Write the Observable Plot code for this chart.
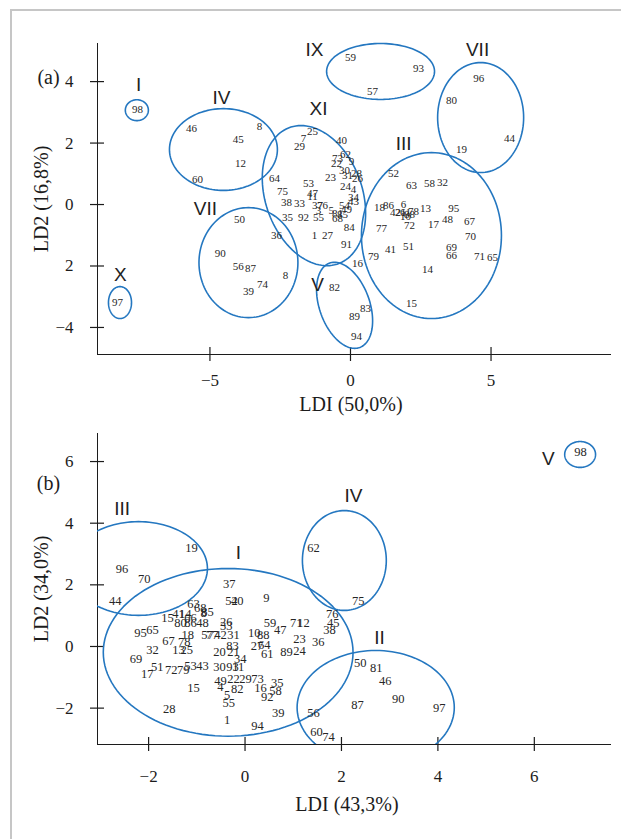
<!DOCTYPE html>
<html><head><meta charset="utf-8">
<script src="https://cdn.jsdelivr.net/npm/d3@7"></script>
<script src="https://cdn.jsdelivr.net/npm/@observablehq/plot@0.6"></script>
<style>
body{margin:0;background:#fff}
#wrap{position:relative;width:621px;height:839px;overflow:hidden;background:#fff}
#frame{position:absolute;left:10px;top:9px;width:700px;height:900px;border-left:2px solid #c6c6c6;border-top:2px solid #c6c6c6}
#pa{position:absolute;left:0;top:0}
#pb{position:absolute;left:0;top:420px}
</style></head><body>
<div id="wrap"><div id="frame"></div><div id="pa"></div><div id="pb"></div></div>
<script>
// ---------- Panel (a) ----------
const xDomA = [-9.0, 9.25];
const yDomA = [-4.88, 5.24];
const xTicksA = [-5, 0, 5];
const xTickLabelsA = ["−5", "0", "5"];
const yTicksA = [-4, -2, 0, 2, 4];
const yTickLabelsA = ["−4", "2", "0", "2", "4"];
const titlesA = {x: "LDI (50,0%)", y: "LD2 (16,8%)", tag: "(a)"};

// [label, LD1, LD2]
const pointsA = [
["98",-7.58,3.09],["46",-5.66,2.47],["8",-3.24,2.54],["45",-3.99,2.11],["12",-3.91,1.33],["60",-5.44,0.81],
["59",0.00,4.78],["93",2.42,4.42],["57",0.78,3.67],
["96",4.56,4.10],["80",3.59,3.38],["44",5.66,2.15],["19",3.95,1.79],
["25",-1.35,2.37],["7",-1.67,2.15],["29",-1.81,1.89],["40",-0.32,2.08],["62",-0.18,1.63],["73",-0.46,1.50],
["22",-0.50,1.33],["9",0.04,1.40],["23",-0.71,0.88],["30",-0.21,1.11],["31",-0.11,0.94],["28",0.21,1.01],
["26",0.25,0.85],["53",-1.49,0.68],["24",-0.18,0.59],["4",0.11,0.49],["64",-2.70,0.85],["75",-2.42,0.42],
["47",-1.35,0.36],["11",-1.35,0.26],["34",0.11,0.23],["43",0.11,0.10],["38",-2.28,0.07],["33",-1.81,0.03],
["37",-1.17,-0.03],["76",-1.00,-0.03],["3",-1.14,-0.20],["5",-0.68,-0.20],["54",-0.21,-0.03],["49",-0.14,-0.16],
["81",-0.46,-0.29],["85",-0.28,-0.33],["68",-0.46,-0.46],["35",-2.24,-0.42],["92",-1.67,-0.42],["55",-1.14,-0.42],
["1",-1.28,-1.01],["27",-0.82,-1.01],["84",-0.04,-0.75],["91",-0.14,-1.30],
["52",1.53,1.01],["63",2.17,0.62],["58",2.81,0.68],["32",3.27,0.72],["18",1.03,-0.10],["86",1.35,-0.03],
["6",1.89,0.00],["42",1.60,-0.26],["21",1.78,-0.26],["61",1.96,-0.26],["78",2.24,-0.23],["88",2.10,-0.33],
["10",1.96,-0.39],["13",2.67,-0.13],["95",3.67,-0.13],["48",3.45,-0.49],["67",4.23,-0.55],["77",1.10,-0.78],
["72",2.10,-0.68],["17",2.95,-0.65],["70",4.27,-1.04],["41",1.42,-1.46],["51",2.06,-1.37],["69",3.59,-1.40],
["66",3.59,-1.66],["79",0.82,-1.69],["71",4.59,-1.69],["65",5.05,-1.72],["14",2.74,-2.11],["15",2.17,-3.22],
["50",-3.95,-0.49],["36",-2.63,-1.01],["90",-4.63,-1.59],["56",-3.99,-2.02],["87",-3.56,-2.08],["8",-2.31,-2.31],
["74",-3.13,-2.60],["39",-3.63,-2.83],
["16",0.25,-1.92],["82",-0.57,-2.70],["83",0.53,-3.38],["89",0.14,-3.64],["94",0.21,-4.29],
["97",-8.29,-3.19]
];
// [name, cx, cy, horizontal half-chord, top-vector x, top-vector y]
const ellipsesA = [
["I",-7.60,3.07,0.41,0,0.34],["IV",-4.52,1.79,1.92,0,1.33],["IX",1.07,4.33,1.92,0,0.91],
["VIIa",4.63,2.83,1.53,0,1.79],["XI",-1.30,0.29,1.78,-0.46,2.28],["III",2.88,-1.01,2.49,0,2.70],
["VIIb",-3.63,-1.89,1.76,0,1.79],["V",-0.21,-3.28,0.93,-0.36,1.40],["X",-8.20,-3.19,0.41,0,0.52]
];
const clusterLabelsA = [
["I",-7.54,3.90],["IV",-4.59,3.48],["IX",-1.28,5.04],["VII",4.52,5.04],["XI",-1.14,3.12],
["III",1.89,1.98],["VII",-5.16,-0.13],["X",-8.19,-2.28],["V",-1.17,-2.63]
];

// ---------- Panel (b) ----------
const xDomB = [-3.06, 7.58];
const yDomB = [-3.18, 6.91];
const xTicksB = [-2, 0, 2, 4, 6];
const xTickLabelsB = ["−2", "0", "2", "4", "6"];
const yTicksB = [-2, 0, 2, 4, 6];
const yTickLabelsB = ["−2", "0", "2", "4", "6"];
const titlesB = {x: "LDI (43,3%)", y: "LD2 (34,0%)", tag: "(b)"};

const pointsB = [
["19",-1.11,3.21],["96",-2.55,2.50],["70",-2.09,2.20],["44",-2.69,1.49],
["37",-0.33,2.04],["52",-0.28,1.46],["40",-0.16,1.46],["9",0.44,1.56],
["62",1.42,3.21],["75",2.35,1.49],["76",1.81,1.07],["45",1.83,0.75],["38",1.75,0.52],
["71",1.06,0.75],["12",1.21,0.75],["47",0.73,0.55],["59",0.52,0.75],["23",1.13,0.23],["36",1.52,0.13],
["24",1.13,-0.16],["89",0.86,-0.19],["61",0.46,-0.23],["10",0.19,0.45],["88",0.38,0.36],["27",0.25,0.03],
["64",0.40,0.06],["85",-0.78,1.13],["26",-0.39,0.81],["33",-0.39,0.65],["57",-0.78,0.36],["42",-0.51,0.36],
["31",-0.24,0.36],["83",-0.26,0.03],["20",-0.53,-0.19],["21",-0.24,-0.19],["34",-0.10,-0.42],["30",-0.53,-0.68],
["93",-0.26,-0.68],["11",-0.14,-0.68],["49",-0.51,-1.13],["22",-0.24,-1.07],["29",0.01,-1.07],["73",0.26,-1.04],
["4",-0.51,-1.30],["82",-0.16,-1.39],["16",0.32,-1.36],["35",0.67,-1.20],["58",0.63,-1.43],["92",0.46,-1.65],
["5",-0.37,-1.59],["55",-0.34,-1.82],["39",0.69,-2.17],["1",-0.37,-2.37],["94",0.26,-2.59],
["63",-1.07,1.39],["68",-0.93,1.26],["8",-0.86,1.10],["41",-1.38,1.04],["14",-1.24,1.04],["15",-1.61,0.91],
["66",-1.13,0.94],["80",-1.34,0.75],["86",-1.13,0.75],["48",-0.88,0.75],["95",-2.17,0.45],["65",-1.92,0.52],
["67",-1.59,0.19],["18",-1.19,0.36],["77",-0.68,0.36],["78",-1.26,0.13],["32",-1.92,-0.13],["13",-1.38,-0.13],
["25",-1.21,-0.13],["69",-2.26,-0.42],["51",-1.82,-0.68],["17",-2.03,-0.88],["72",-1.53,-0.75],["79",-1.28,-0.75],
["53",-1.13,-0.62],["43",-0.88,-0.62],["15",-1.07,-1.36],["28",-1.57,-2.04],
["50",2.39,-0.52],["81",2.72,-0.71],["46",2.91,-1.13],["90",3.18,-1.69],["87",2.33,-1.91],["97",4.03,-1.98],
["56",1.42,-2.17],["60",1.48,-2.79],["74",1.73,-2.95],
["98",6.96,6.32]
];
const ellipsesB = [
["III",-2.21,2.53,1.43,0,1.52],["I",-0.35,-0.19,2.59,0,2.72],["IV",2.06,2.79,0.87,0,1.62],
["II",2.71,-1.98,1.63,0,1.85],["V",6.95,6.23,0.32,0,0.42]
];
const clusterLabelsB = [
["III",-2.55,4.47],["I",-0.14,3.02],["IV",2.25,4.90],["II",2.79,0.29],["V",6.29,6.10]
];

// ---------- helpers ----------
const BLUE = "#2477c0";
const INK = "#1c1c1c";
const TICK_HALF = 7; // px, ticks cross the axis line
function outline(ells) {
  const pts = [];
  for (const [name, cx, cy, ux, vx, vy] of ells) {
    for (let k = 0; k < 120; k++) {
      const t = (k / 120) * 2 * Math.PI;
      pts.push({name, x: cx + ux * Math.cos(t) + vx * Math.sin(t), y: cy + vy * Math.sin(t)});
    }
  }
  return pts;
}

function panel(o) {
  const innerW = 621 - 97 - 11, innerH = o.height - o.mt - o.mb;
  const kx = (o.xDom[1] - o.xDom[0]) / innerW * TICK_HALF;
  const ky = (o.yDom[1] - o.yDom[0]) / innerH * TICK_HALF;
  return Plot.plot({
    width: 621, height: o.height,
    marginLeft: 97, marginRight: 11, marginTop: o.mt, marginBottom: o.mb,
    style: {fontFamily: "'Liberation Serif', serif", fontSize: "17px", color: INK, background: "transparent", overflow: "visible"},
    x: {domain: o.xDom, ticks: o.xTicks, tickFormat: d => o.xLabels[o.xTicks.indexOf(d)], tickSize: 0, tickPadding: o.xpad, label: null, line: true},
    y: {domain: o.yDom, ticks: o.yTicks, tickFormat: d => o.yLabels[o.yTicks.indexOf(d)], tickSize: 0, tickPadding: 24, label: null, line: true},
    marks: [
      Plot.ruleX(o.xTicks, {x: d => d, y1: o.yDom[0] - ky, y2: o.yDom[0] + ky, stroke: INK, strokeWidth: 1.2}),
      Plot.ruleY(o.yTicks, {y: d => d, x1: o.xDom[0] - kx, x2: o.xDom[0] + kx, stroke: INK, strokeWidth: 1.2}),
      Plot.line(outline(o.ells), {x: "x", y: "y", z: "name", curve: "linear-closed", stroke: BLUE, strokeWidth: 1.6, clip: o.clip}),
      Plot.text(o.points, {x: d => d[1], y: d => d[2], text: d => d[0], fontSize: o.fs, fill: "#262626", fontFamily: "'Liberation Serif', serif"}),
      Plot.text(o.clusters, {x: d => d[1], y: d => d[2], text: d => d[0], fontSize: 19, fill: "#222", fontFamily: "'Liberation Sans', sans-serif"}),
      Plot.text([o.titles.x], {frameAnchor: "bottom", textAnchor: "middle", dy: o.titleDy, dx: o.titleDx, fontSize: 20, fill: INK}),
      Plot.text([o.titles.y], {frameAnchor: "left", textAnchor: "middle", lineAnchor: "middle", dx: -56, rotate: -90, fontSize: 20, fill: INK}),
      Plot.text([o.titles.tag], {frameAnchor: "top-left", textAnchor: "middle", lineAnchor: "middle", dx: -49, dy: o.tagDy, fontSize: 20, fill: INK})
    ]
  });
}

document.getElementById("pa").append(panel({
  height: 420, mt: 43, mb: 66, xDom: xDomA, yDom: yDomA, xTicks: xTicksA, xLabels: xTickLabelsA,
  yTicks: yTicksA, yLabels: yTickLabelsA, xpad: 19, ells: ellipsesA, clip: false, points: pointsA, fs: 11,
  clusters: clusterLabelsA, titles: titlesA, titleDy: 56, titleDx: -3, tagDy: 34
}));
document.getElementById("pb").append(panel({
  height: 419, mt: 13, mb: 95, xDom: xDomB, yDom: yDomB, xTicks: xTicksB, xLabels: xTickLabelsB,
  yTicks: yTicksB, yLabels: yTickLabelsB, xpad: 25, ells: ellipsesB, clip: true, points: pointsB, fs: 12.5,
  clusters: clusterLabelsB, titles: titlesB, titleDy: 66, titleDx: -7, tagDy: 50
}));
</script>
</body></html>
